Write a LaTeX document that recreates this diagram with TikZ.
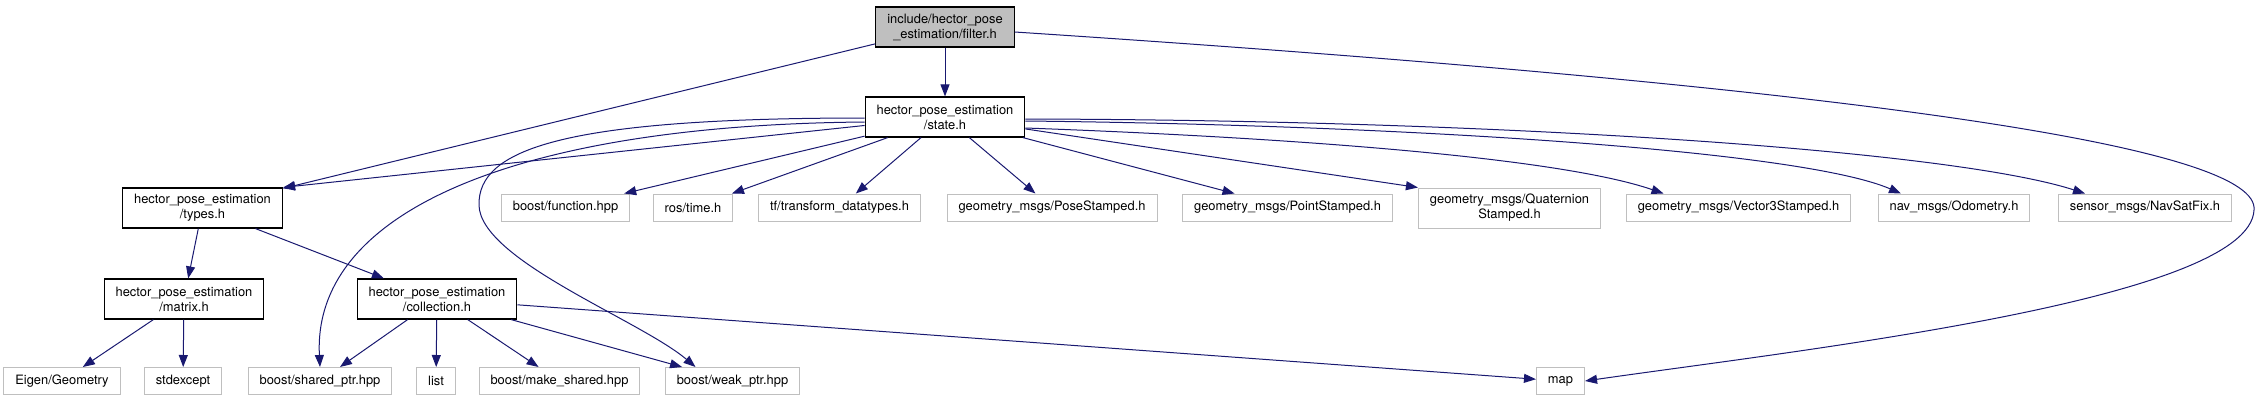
\documentclass[tikz,border=0pt]{standalone}
\usepackage{fontspec}
\setmainfont{TeX Gyre Heros}
\usetikzlibrary{arrows.meta}
\definecolor{edgeblue}{HTML}{191970}
\definecolor{boxgrey}{HTML}{BFBFBF}

\begin{document}
\begin{tikzpicture}[x=1pt,y=1pt,
    font=\fontsize{12.9}{15}\selectfont,
    hdr/.style={draw=black,line width=1.2pt,align=center,
      inner xsep=11.5pt,inner ysep=2pt,minimum height=40pt},
    ext/.style={draw=boxgrey,line width=1pt,align=center,
      inner xsep=11.5pt,inner ysep=2pt,minimum height=27pt},
    dep/.style={draw=edgeblue,line width=1pt,
      -{Triangle[length=12pt,width=9pt]}}]
  \useasboundingbox (0,0) rectangle (2259,-400);

  \node[hdr,fill=boxgrey] (filter) at (945,-27)
    {include/hector\_pose\\\_estimation/filter.h};
  \node[hdr] (state) at (945,-117) {hector\_pose\_estimation\\/state.h};
  \node[hdr] (types) at (202.5,-208) {hector\_pose\_estimation\\/types.h};
  \node[hdr] (matrix) at (184,-299) {hector\_pose\_estimation\\/matrix.h};
  \node[hdr] (coll) at (437,-299) {hector\_pose\_estimation\\/collection.h};

  \node[ext] (func) at (565.5,-207.5) {boost/function.hpp};
  \node[ext] (rostime) at (693,-207.5) {ros/time.h};
  \node[ext] (tfdt) at (839.5,-207.5) {tf/transform\_datatypes.h};
  \node[ext] (pose) at (1052,-207.5) {geometry\_msgs/PoseStamped.h};
  \node[ext] (point) at (1287.5,-207.5) {geometry\_msgs/PointStamped.h};
  \node[ext,minimum height=40pt] (quat) at (1509.5,-208)
    {geometry\_msgs/Quaternion\\Stamped.h};
  \node[ext] (vecthree) at (1738.5,-207.5) {geometry\_msgs/Vector3Stamped.h};
  \node[ext] (odom) at (1954,-207.5) {nav\_msgs/Odometry.h};
  \node[ext] (navfix) at (2145,-207.5) {sensor\_msgs/NavSatFix.h};

  \node[ext] (eigen) at (62,-381) {Eigen/Geometry};
  \node[ext] (stdexc) at (183,-381) {stdexcept};
  \node[ext] (shared) at (320,-381) {boost/shared\_ptr.hpp};
  \node[ext] (list) at (436,-381) {list};
  \node[ext] (makeshared) at (559.5,-381) {boost/make\_shared.hpp};
  \node[ext] (weak) at (732.5,-381) {boost/weak\_ptr.hpp};
  \node[ext] (map) at (1560.5,-381) {map};

  % filter.h
  \draw[dep] (filter) -- (state);
  \draw[dep] (filter) -- (types);
  \draw[dep] ([yshift=-5pt]filter.east)
    .. controls (1900,-90) and (2260,-150) .. (2254,-210)
    .. controls (2250,-300) and (1800,-350) .. (map.east);

  % state.h
  \draw[dep] (state) -- (types.north east);
  \draw[dep] ([yshift=-5pt]state.west)
    .. controls (520,-125) and (312,-210) .. (shared.north);
  \draw[dep] ([yshift=-1pt]state.west)
    .. controls (560,-118) and (478,-150) .. (479,-205)
    .. controls (480,-260) and (640,-320) .. ([xshift=-37pt]weak.north);
  \draw[dep] (state) -- (func);
  \draw[dep] (state) -- (rostime);
  \draw[dep] (state) -- (tfdt);
  \draw[dep] (state) -- (pose);
  \draw[dep] (state) -- (point);
  \draw[dep] (state) -- (quat.north west);
  \draw[dep] ([yshift=-11pt]state.east)
    .. controls (1300,-138) and (1560,-158) .. ([xshift=-75pt]vecthree.north);
  \draw[dep] ([yshift=-4pt]state.east)
    .. controls (1400,-125) and (1800,-150) .. ([xshift=-53pt]odom.north);
  \draw[dep] ([yshift=-2pt]state.east)
    .. controls (1500,-120) and (1950,-150) .. ([xshift=-60pt]navfix.north);

  % types.h, matrix.h, collection.h
  \draw[dep] (types) -- (matrix);
  \draw[dep] (types) -- (coll);
  \draw[dep] (matrix) -- (eigen);
  \draw[dep] (matrix) -- (stdexc);
  \draw[dep] (coll) -- (shared);
  \draw[dep] (coll) -- (list);
  \draw[dep] (coll) -- (makeshared);
  \draw[dep] (coll) -- (weak);
  \draw[dep] (coll) -- (map);
\end{tikzpicture}
\end{document}
